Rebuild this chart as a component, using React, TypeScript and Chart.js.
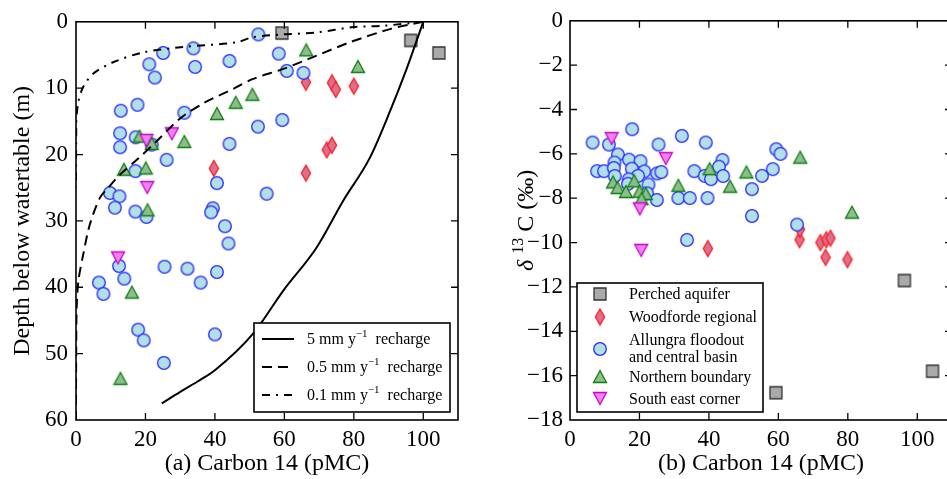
import React, { useEffect, useRef } from 'react';
import { Chart, registerables } from 'chart.js';

Chart.register(...registerables);

const FONT = "'Liberation Serif', 'Times New Roman', serif";

// ---------- Panel (a): Carbon 14 vs depth ----------
const xTicksA = [0, 20, 40, 60, 80, 100];
const yTicksA = [0, 10, 20, 30, 40, 50, 60];

const perchedC14A = [59.3, 96.4, 104.5];
const perchedDepth = [1.7, 2.8, 4.7];

const woodfordeC14A = [39.7, 66.2, 66.2, 72.2, 73.7, 73.7, 74.8, 80.0];
const woodfordeDepth = [22.1, 9.1, 22.8, 19.3, 9.2, 18.6, 10.2, 9.7];

const allungraC14A = [52.5, 25.1, 33.8, 21.1, 34.3, 44.2, 22.7, 12.9, 17.7, 31.2, 52.4, 12.7, 17.2, 12.7, 21.8,
  44.2, 26.1, 17.1, 40.6, 9.8, 12.5, 54.9, 58.4, 60.7, 65.5, 59.4, 11.2, 17.1, 20.3, 39.4, 38.9, 42.9, 43.9,
  12.4, 13.9, 6.6, 7.9, 25.5, 32.1, 35.9, 40.6, 17.9, 19.5, 40.0, 25.3];
const allungraDepth = [1.9, 4.7, 4.0, 6.4, 6.8, 5.9, 8.4, 13.4, 12.5, 13.7, 15.8, 16.8, 17.4, 18.9, 18.5,
  18.4, 20.8, 22.5, 24.3, 25.8, 26.3, 25.9, 4.8, 7.4, 7.7, 14.8, 28.0, 28.6, 29.4, 28.1, 28.7, 30.8, 33.4,
  36.8, 38.7, 39.3, 41.0, 36.9, 37.2, 39.3, 37.7, 46.4, 48.0, 47.1, 51.4];

const northernC14A = [50.8, 46.0, 40.6, 31.2, 18.3, 21.8, 13.8, 20.1, 66.3, 81.2, 20.6, 16.1, 12.8];
const northernDepth = [11.0, 12.2, 13.9, 18.1, 17.3, 18.4, 22.3, 22.1, 4.3, 6.8, 28.4, 40.8, 53.8];

const southEastC14A = [20.3, 27.6, 20.5, 12.1];
const southEastDepth = [17.8, 16.8, 24.9, 35.5];

const recharge5C14 = [100, 95.2, 90.4, 84.6, 76.9, 69.3, 59.7, 51.0, 40.0, 35.0, 29.9, 24.7];
const recharge5Depth = [0, 7.1, 13.5, 20.5, 27.0, 34.0, 40.5, 47.0, 52.5, 54.2, 55.8, 57.5];

const recharge05C14 = [100, 90.4, 78.8, 69.3, 59.7, 51.0, 45.3, 36.6, 29.9, 23.2, 17.5, 12.7, 9.3, 6.9, 4.0, 2.1, 0.7, 0.2, 0.05, 0];
const recharge05Depth = [0, 1.1, 3.1, 5.1, 7.1, 8.6, 10.1, 12.3, 14.6, 18.0, 20.8, 23.0, 25.0, 26.5, 30.5, 35.0, 39.0, 43.0, 50, 60];

const recharge01C14 = [100, 88.4, 79.8, 69.3, 59.7, 51.0, 46.2, 30.9, 19.4, 10.7, 5.0, 2.1, 0.7, 0.1, 0];
const recharge01Depth = [0, 0.6, 0.8, 1.6, 1.9, 2.3, 3.1, 3.8, 4.6, 6.1, 7.8, 9.8, 12.0, 15, 25];

// ---------- Panel (b): Carbon 14 vs delta 13C ----------
const xTicksB = [0, 20, 40, 60, 80, 100];
const yTicksB = [0, -2, -4, -6, -8, -10, -12, -14, -16, -18];

const perchedC14B = [59.3, 96.3, 104.4];
const perchedD13C = [-16.77, -11.71, -15.8];

const woodfordeC14B = [39.7, 66.1, 66.2, 72.1, 73.8, 75.0, 73.6, 79.9];
const woodfordeD13C = [-10.27, -9.87, -9.4, -10.0, -9.87, -9.8, -10.67, -10.77];

const allungraC14B = [6.5, 11.2, 17.9, 25.5, 32.2, 39.1, 13.8, 12.8, 17.0, 20.3, 7.8, 9.8, 12.6, 17.8, 21.4,
  12.9, 19.6, 16.9, 22.6, 16.7, 25.1, 26.3, 22.2, 25.0, 31.2, 34.5, 39.6, 35.8, 38.8, 33.7, 43.9, 42.9, 40.6,
  44.1, 59.4, 60.6, 58.4, 55.3, 52.4, 52.4, 65.4];
const allungraD13C = [-5.49, -5.58, -4.89, -5.58, -5.19, -5.49, -6.03, -6.39, -6.26, -6.33, -6.78, -6.78, -6.64,
  -6.67, -6.79, -7.0, -6.99, -7.15, -7.38, -7.35, -6.88, -6.82, -7.78, -8.08, -7.99, -7.99, -7.99, -6.78, -6.99,
  -9.88, -6.28, -6.58, -7.14, -7.0, -5.79, -6.0, -6.69, -6.99, -7.59, -8.8, -9.19];

const northernC14B = [12.4, 13.7, 16.1, 18.5, 20.0, 21.8, 20.6, 31.2, 40.2, 50.8, 46.1, 66.3, 81.2];
const northernD13C = [-7.29, -7.54, -7.72, -7.24, -7.71, -7.81, -8.04, -7.44, -6.69, -6.84, -7.48, -6.17, -8.65];

const southEastC14B = [12.0, 27.6, 20.1, 20.5];
const southEastD13C = [-5.29, -6.19, -8.46, -10.33];

const legendLabelsB = ['Perched aquifer', 'Woodforde regional', 'Allungra floodout|and central basin', 'Northern boundary', 'South east corner'];

// ---------- helpers ----------
const pts = (xs: number[], ys: number[]) => xs.map((x, i) => ({ x, y: ys[i] }));

type Kind = 'circle' | 'square' | 'up' | 'down' | 'diamond';
function marker(kind: Kind, fill: string, stroke: string): HTMLCanvasElement {
  const c = document.createElement('canvas');
  const W = kind === 'diamond' ? 12 : 16;
  const H = kind === 'diamond' ? 19 : 16;
  c.width = W; c.height = H;
  const g = c.getContext('2d')!;
  g.fillStyle = fill; g.strokeStyle = stroke; g.lineWidth = 1.3;
  const cx = W / 2, cy = H / 2;
  g.beginPath();
  if (kind === 'circle') g.arc(cx, cy, 6.3, 0, Math.PI * 2);
  else if (kind === 'square') g.rect(cx - 6, cy - 6, 12, 12);
  else if (kind === 'up') { g.moveTo(cx, cy - 6.5); g.lineTo(cx + 6.5, cy + 5.5); g.lineTo(cx - 6.5, cy + 5.5); g.closePath(); }
  else if (kind === 'down') { g.moveTo(cx, cy + 6.5); g.lineTo(cx + 6.5, cy - 5.5); g.lineTo(cx - 6.5, cy - 5.5); g.closePath(); }
  else { g.moveTo(cx, cy - 8); g.lineTo(cx + 4.6, cy); g.lineTo(cx, cy + 8); g.lineTo(cx - 4.6, cy); g.closePath(); }
  g.fill(); g.stroke();
  return c;
}

type Part = { t: string; size: number; dy?: number; italic?: boolean };
function partsWidth(ctx: CanvasRenderingContext2D, parts: Part[]) {
  let w = 0;
  for (const p of parts) { ctx.font = `${p.italic ? 'italic ' : ''}${p.size}px ${FONT}`; w += ctx.measureText(p.t).width; }
  return w;
}
function drawParts(ctx: CanvasRenderingContext2D, x: number, y: number, parts: Part[]) {
  let cx = x;
  for (const p of parts) {
    ctx.font = `${p.italic ? 'italic ' : ''}${p.size}px ${FONT}`;
    ctx.fillText(p.t, cx, y + (p.dy || 0));
    cx += ctx.measureText(p.t).width;
  }
}

const frameTicks = {
  id: 'frameTicks',
  afterDatasetsDraw(chart: any) {
    const { ctx, chartArea: a, scales } = chart;
    ctx.save();
    ctx.strokeStyle = '#000';
    ctx.lineWidth = 1.3;
    const L = 7;
    ctx.beginPath();
    for (const t of scales.x.ticks) {
      const p = scales.x.getPixelForValue(t.value);
      if (p <= a.left + 1 || p >= a.right - 1) continue;
      ctx.moveTo(p, a.bottom); ctx.lineTo(p, a.bottom - L);
      ctx.moveTo(p, a.top); ctx.lineTo(p, a.top + L);
    }
    for (const t of scales.y.ticks) {
      const p = scales.y.getPixelForValue(t.value);
      if (p <= a.top + 1 || p >= a.bottom - 1) continue;
      ctx.moveTo(a.left, p); ctx.lineTo(a.left + L, p);
      ctx.moveTo(a.right, p); ctx.lineTo(a.right - L, p);
    }
    ctx.stroke();
    ctx.lineWidth = 1.6;
    ctx.strokeRect(a.left, a.top, a.right - a.left, a.bottom - a.top);
    ctx.restore();
  },
};

function scatterSet(data: any[], img: HTMLCanvasElement, order: number) {
  return { data, pointStyle: img, pointRadius: 6, pointHoverRadius: 6, showLine: false, order };
}
function lineSet(data: any[], dash: number[], order: number, monotone = false) {
  return {
    data, showLine: true, pointRadius: 0, pointHoverRadius: 0, borderColor: '#000', borderWidth: 2,
    borderDash: dash, tension: 0.3, order, fill: false,
    cubicInterpolationMode: monotone ? 'monotone' : 'default',
  };
}

const DASH05 = [10, 6];
const DASH01 = [8, 6, 2, 6];

export default function App() {
  const refA = useRef<HTMLCanvasElement>(null);
  const refB = useRef<HTMLCanvasElement>(null);

  useEffect(() => {
    const mSquare = marker('square', '#aaaaaa', '#333333');
    const mDiamond = marker('diamond', '#dc6f8e', '#ff1a1a');
    const mCircle = marker('circle', '#b0e0e6', '#2828ff');
    const mUp = marker('up', '#8fbc8f', '#0a800a');
    const mDown = marker('down', '#ee82ee', '#cc00cc');

    const tickFont = { family: FONT, size: 23 };

    const legendA = {
      id: 'legendA',
      afterDraw(chart: any) {
        const { ctx, chartArea: a } = chart;
        ctx.save();
        ctx.fillStyle = '#000';
        ctx.textBaseline = 'middle';
        ctx.textAlign = 'left';
        const xt: Part[] = [{ t: '(a) Carbon 14 (pMC)', size: 24 }];
        drawParts(ctx, (a.left + a.right) / 2 - partsWidth(ctx, xt) / 2, 464, xt);
        ctx.save();
        ctx.translate(23, (a.top + a.bottom) / 2);
        ctx.rotate(-Math.PI / 2);
        const yt: Part[] = [{ t: 'Depth below watertable (m)', size: 24 }];
        drawParts(ctx, -partsWidth(ctx, yt) / 2, 0, yt);
        ctx.restore();
        const bx = 254, by = 323, bw = 196, bh = 89;
        ctx.fillStyle = '#fff';
        ctx.fillRect(bx, by, bw, bh);
        ctx.strokeStyle = '#000';
        ctx.lineWidth = 1.6;
        ctx.strokeRect(bx, by, bw, bh);
        const rows = [
          { y: 339, dash: [] as number[], label: '5 mm y' },
          { y: 367, dash: DASH05, label: '0.5 mm y' },
          { y: 395, dash: DASH01, label: '0.1 mm y' },
        ];
        for (const r of rows) {
          ctx.beginPath();
          ctx.setLineDash(r.dash);
          ctx.lineWidth = 2;
          ctx.moveTo(262, r.y); ctx.lineTo(294, r.y);
          ctx.stroke();
          ctx.setLineDash([]);
          ctx.fillStyle = '#000';
          drawParts(ctx, 307, r.y + 1, [
            { t: r.label, size: 16 },
            { t: '\u22121', size: 11, dy: -6 },
            { t: '  recharge', size: 16 },
          ]);
        }
        ctx.restore();
      },
    };

    const legendB = {
      id: 'legendB',
      afterDraw(chart: any) {
        const { ctx, chartArea: a } = chart;
        ctx.save();
        ctx.fillStyle = '#000';
        ctx.textBaseline = 'middle';
        ctx.textAlign = 'left';
        const xt: Part[] = [{ t: '(b) Carbon 14 (pMC)', size: 24 }];
        drawParts(ctx, (a.left + a.right) / 2 - partsWidth(ctx, xt) / 2, 464, xt);
        ctx.save();
        ctx.translate(57, (a.top + a.bottom) / 2);
        ctx.rotate(-Math.PI / 2);
        const yt: Part[] = [
          { t: '\u03B4', size: 24, italic: true },
          { t: ' ', size: 24 },
          { t: '13', size: 16, dy: -8 },
          { t: ' C (\u2030)', size: 24 },
        ];
        drawParts(ctx, -partsWidth(ctx, yt) / 2, 0, yt);
        ctx.restore();
        const ox = -470;
        const bx = 577 + ox, by = 283, bw = 186, bh = 129;
        ctx.fillStyle = '#fff';
        ctx.fillRect(bx, by, bw, bh);
        ctx.strokeStyle = '#000';
        ctx.lineWidth = 1.6;
        ctx.strokeRect(bx, by, bw, bh);
        const imgs = [mSquare, mDiamond, mCircle, mUp, mDown];
        const my = [294, 317, 349, 377, 398];
        const ty = [[295], [318], [341, 358], [378], [400]];
        for (let i = 0; i < imgs.length; i++) {
          const im = imgs[i];
          ctx.drawImage(im, 600 + ox - im.width / 2, my[i] - im.height / 2);
          const lines = legendLabelsB[i].split('|');
          ctx.fillStyle = '#000';
          lines.forEach((ln, j) => drawParts(ctx, 629 + ox, ty[i][j], [{ t: ln, size: 16 }]));
        }
        ctx.restore();
      },
    };

    const chartA = new Chart(refA.current!, {
      type: 'scatter',
      data: {
        datasets: [
          lineSet(pts(recharge5C14, recharge5Depth), [], 0, true),
          lineSet(pts(recharge05C14, recharge05Depth), DASH05, 0),
          lineSet(pts(recharge01C14, recharge01Depth), DASH01, 0),
          scatterSet(pts(southEastC14A, southEastDepth), mDown, 1),
          scatterSet(pts(northernC14A, northernDepth), mUp, 2),
          scatterSet(pts(allungraC14A, allungraDepth), mCircle, 3),
          scatterSet(pts(woodfordeC14A, woodfordeDepth), mDiamond, 4),
          scatterSet(pts(perchedC14A, perchedDepth), mSquare, 5),
        ] as any,
      },
      options: {
        animation: false,
        responsive: false,
        devicePixelRatio: 1,
        events: [],
        layout: { padding: { top: 19, right: 12, left: 0, bottom: 0 } },
        plugins: { legend: { display: false }, tooltip: { enabled: false } },
        scales: {
          x: {
            type: 'linear', min: 0, max: 110,
            grid: { display: false, drawTicks: false },
            border: { display: false },
            afterBuildTicks: (s: any) => { s.ticks = xTicksA.map((v) => ({ value: v })); },
            afterFit: (s: any) => { s.height = 59; },
            ticks: { font: tickFont, color: '#000', padding: 6, maxRotation: 0, autoSkip: false },
          },
          y: {
            type: 'linear', min: 0, max: 60, reverse: true,
            grid: { display: false, drawTicks: false },
            border: { display: false },
            afterBuildTicks: (s: any) => { s.ticks = yTicksA.map((v) => ({ value: v })); },
            afterFit: (s: any) => { s.width = 76; },
            ticks: { font: tickFont, color: '#000', padding: 8, autoSkip: false },
          },
        },
      } as any,
      plugins: [frameTicks, legendA],
    });

    const chartB = new Chart(refB.current!, {
      type: 'scatter',
      data: {
        datasets: [
          scatterSet(pts(southEastC14B, southEastD13C), mDown, 1),
          scatterSet(pts(northernC14B, northernD13C), mUp, 2),
          scatterSet(pts(allungraC14B, allungraD13C), mCircle, 3),
          scatterSet(pts(woodfordeC14B, woodfordeD13C), mDiamond, 4),
          scatterSet(pts(perchedC14B, perchedD13C), mSquare, 5),
        ] as any,
      },
      options: {
        animation: false,
        responsive: false,
        devicePixelRatio: 1,
        events: [],
        layout: { padding: { top: 19, right: 8, left: 0, bottom: 0 } },
        plugins: { legend: { display: false }, tooltip: { enabled: false } },
        scales: {
          x: {
            type: 'linear', min: 0, max: 110,
            grid: { display: false, drawTicks: false },
            border: { display: false },
            afterBuildTicks: (s: any) => { s.ticks = xTicksB.map((v) => ({ value: v })); },
            afterFit: (s: any) => { s.height = 59; },
            ticks: { font: tickFont, color: '#000', padding: 6, maxRotation: 0, autoSkip: false },
          },
          y: {
            type: 'linear', min: -18, max: 0,
            grid: { display: false, drawTicks: false },
            border: { display: false },
            afterBuildTicks: (s: any) => { s.ticks = yTicksB.map((v) => ({ value: v })); },
            afterFit: (s: any) => { s.width = 100; },
            ticks: {
              font: tickFont, color: '#000', padding: 7, autoSkip: false,
              callback: (v: any) => (Number(v) < 0 ? '\u2212' + Math.abs(Number(v)) : String(v)),
            },
          },
        },
      } as any,
      plugins: [frameTicks, legendB],
    });

    return () => { chartA.destroy(); chartB.destroy(); };
  }, []);

  return (
    <div style={{ position: 'fixed', left: 0, top: 0, width: 947, height: 479, overflow: 'hidden', background: '#fff' }}>
      <canvas ref={refA} width={470} height={479} style={{ position: 'absolute', left: 0, top: 0 }} />
      <canvas ref={refB} width={490} height={479} style={{ position: 'absolute', left: 470, top: 0 }} />
    </div>
  );
}
